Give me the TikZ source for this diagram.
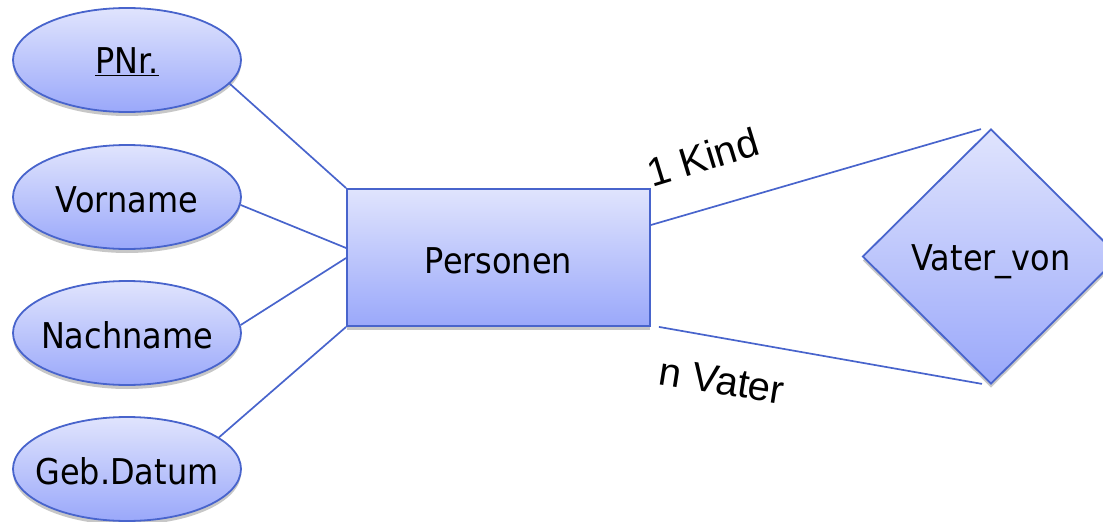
\documentclass[tikz,border=0pt]{standalone}
\usepackage{fontspec}
\usetikzlibrary{shapes.geometric,shadows}
\newfontfamily\tah[FakeStretch=0.9]{DejaVu Sans}
\newfontfamily\arialf{Liberation Sans}
\definecolor{erTop}{RGB}{224,228,253}
\definecolor{erBot}{RGB}{154,168,250}
\definecolor{erLine}{RGB}{72,100,204}
\newcommand{\lowtext}[2]{\raisebox{-#1}[\height][\depth]{#2}}
\tikzset{
  erbase/.style={draw=erLine, line width=1.8pt, top color=erTop, bottom color=erBot,
    inner sep=0pt, font=\tah\fontsize{35.5}{40}\selectfont,
    drop shadow={shadow xshift=0pt, shadow yshift=-4pt, opacity=0.22, fill=black}},
  attr/.style={erbase, ellipse, minimum width=228pt, minimum height=104pt},
  entity/.style={erbase, rectangle, minimum width=303pt, minimum height=137pt},
  rel/.style={erbase, diamond, aspect=1, minimum width=257pt, minimum height=255pt},
  conn/.style={draw=erLine, line width=1.7pt},
  card/.style={font=\arialf\fontsize{40}{44}\selectfont, inner sep=0pt}
}
\begin{document}
\begin{tikzpicture}[x=1pt,y=-1pt]
\useasboundingbox (0,0) rectangle (1103,522);
\clip (0,0) rectangle (1103,522);
\node[attr] (pnr) at (127,60) {\makebox[0pt]{\lowtext{2pt}{\underline{PNr.}}}};
\node[attr] (vor) at (127,197) {\makebox[0pt]{\lowtext{3pt}{Vorname}}};
\node[attr] (nach) at (127,333) {\makebox[0pt]{\lowtext{2pt}{Nachname}}};
\node[attr] (geb) at (127,469) {\makebox[0pt]{\lowtext{2pt}{Geb.Datum}}};
\node[entity] (pers) at (498.5,257.5) {\lowtext{3pt}{Personen}};
\node[rel] (vv) at (991,256.5) {\lowtext{5pt}{Vater\_von}};
\draw[conn] (pnr.-13.6) -- (pers.north west);
\draw[conn] (vor.-4) -- ([yshift=9.5pt]pers.west);
\draw[conn] (nach.4) -- ([yshift=-0.5pt]pers.west);
\draw[conn] (geb.19) -- (pers.south west);
\draw[conn] ([yshift=32.5pt]pers.east) -- ([xshift=-10pt,yshift=-1pt]vv.north);
\draw[conn] ([xshift=8pt]pers.south east) -- ([xshift=-9pt,yshift=1pt]vv.south);
\node[card, rotate=17] (kind) at (703,157) {1 Kind};
\node[card, rotate=-9] (vater) at (722,381) {n Vater};
\end{tikzpicture}
\end{document}
